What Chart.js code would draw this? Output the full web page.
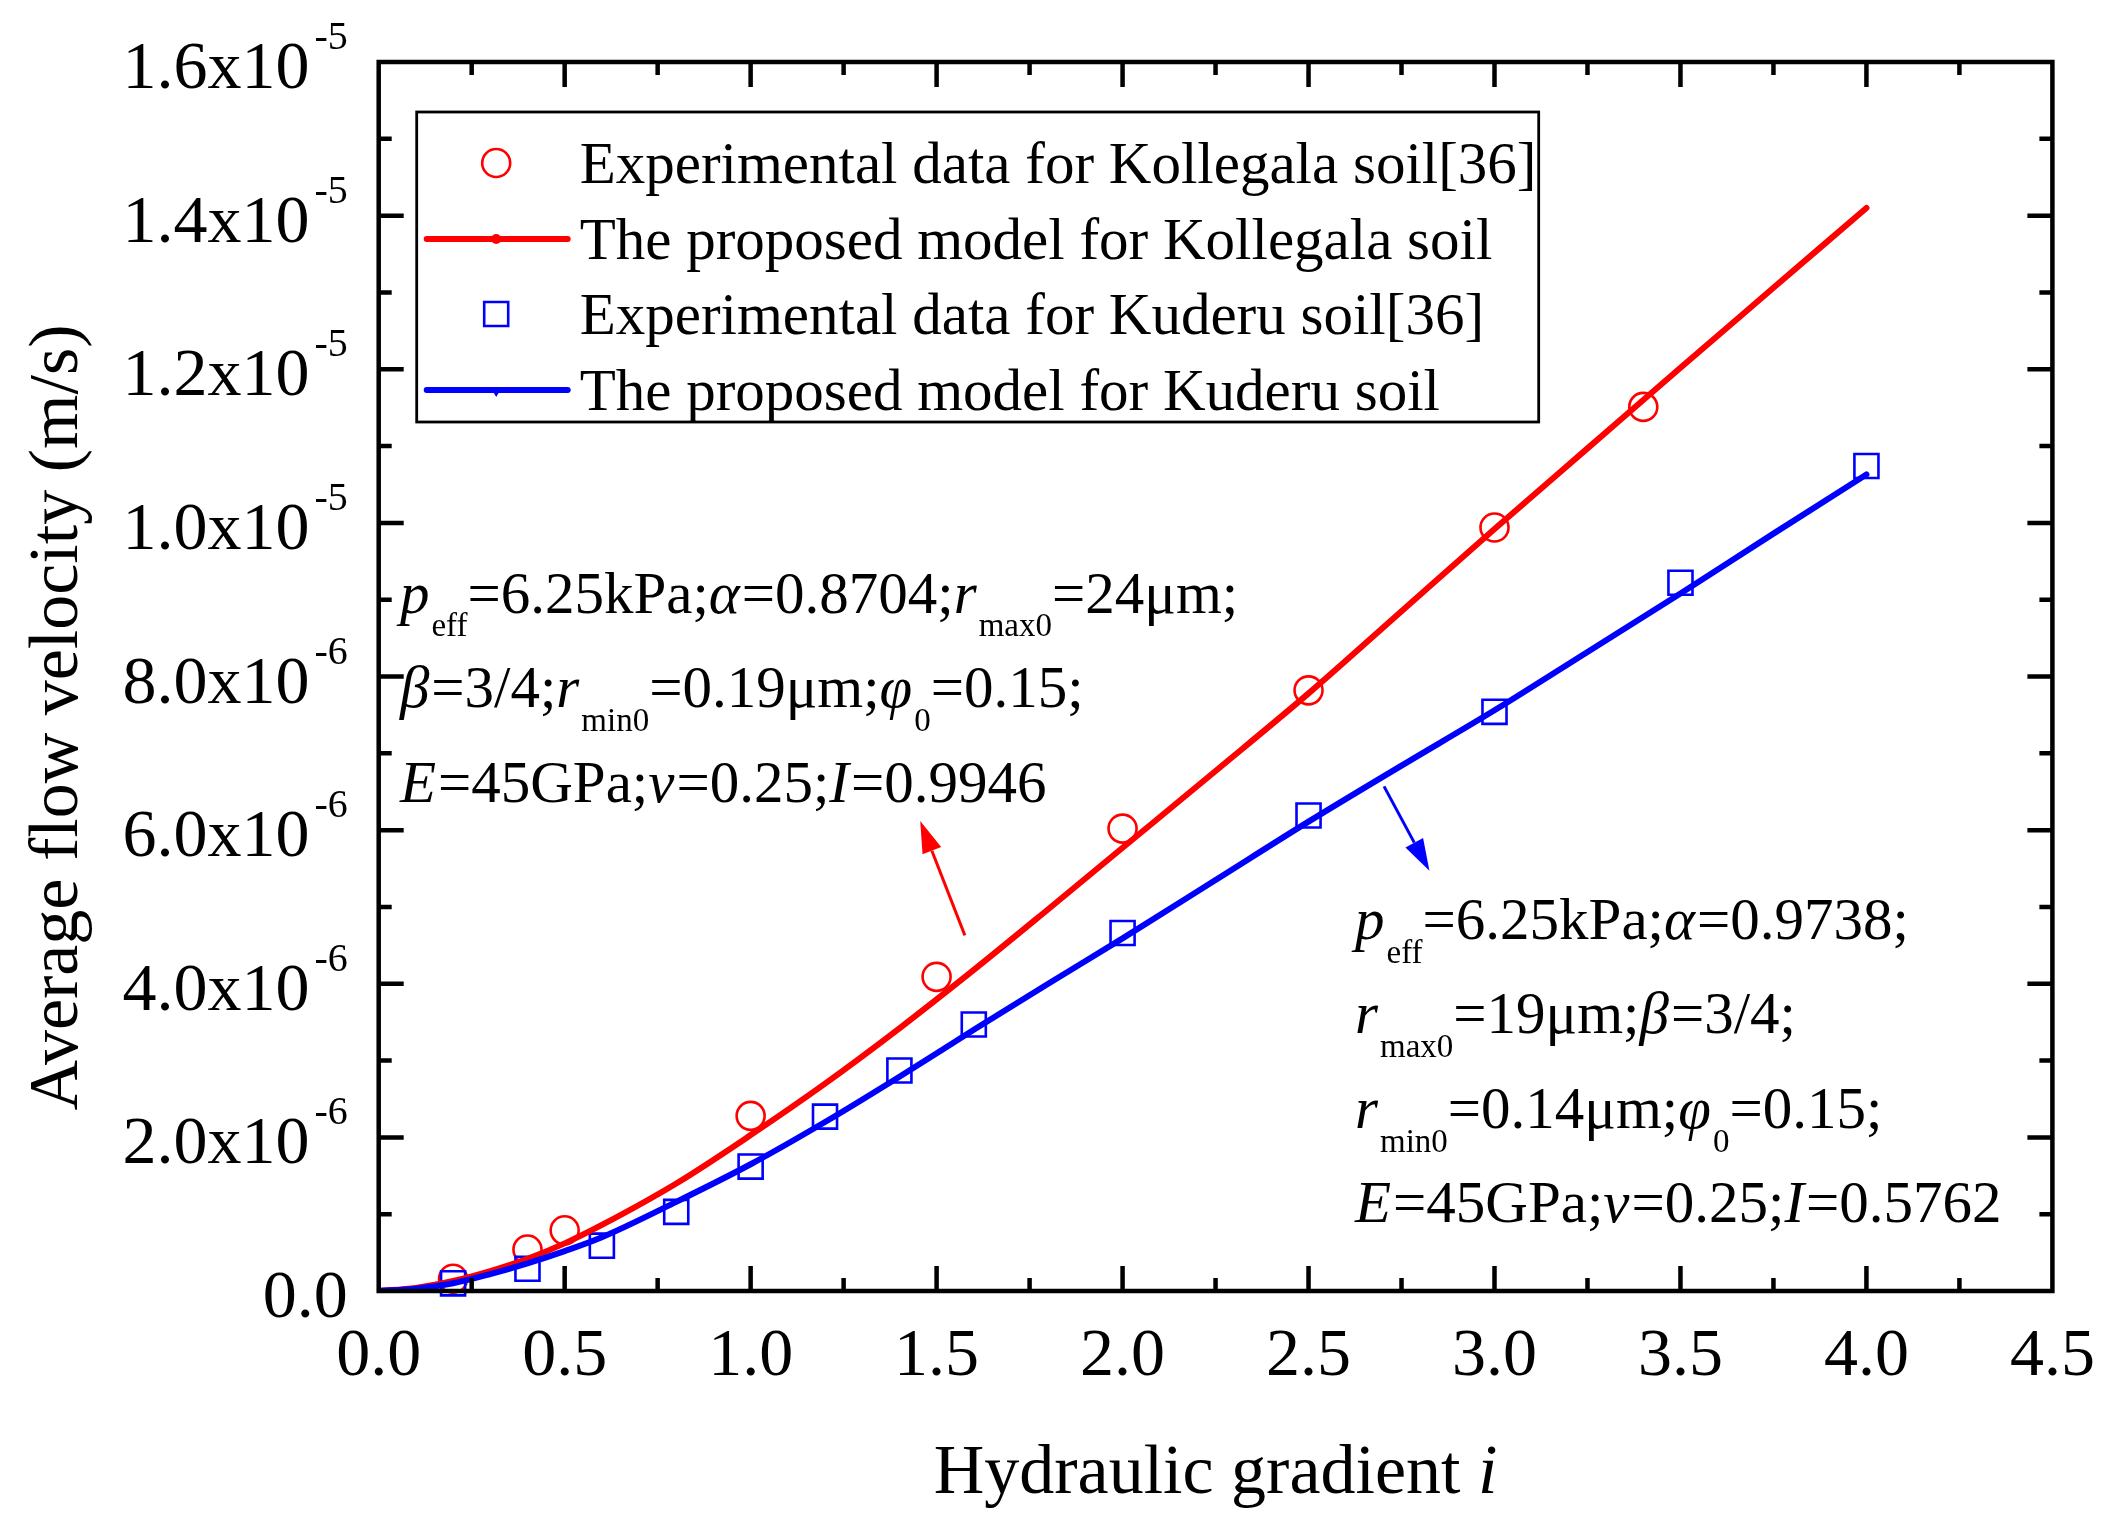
<!DOCTYPE html>
<html>
<head>
<meta charset="utf-8">
<script src="https://cdn.jsdelivr.net/npm/chart.js@4.4.1/dist/chart.umd.min.js"></script>
<style>
  html, body { margin: 0; padding: 0; background: #ffffff; }
  #wrap { width: 2113px; height: 1524px; }
</style>
</head>
<body>
<div id="wrap"><canvas id="c" width="2113" height="1524"></canvas></div>
<script>
// ---------------- DATA ----------------
const seriesNames = [
  'Experimental data for Kollegala soil[36]',
  'The proposed model for Kollegala soil',
  'Experimental data for Kuderu soil[36]',
  'The proposed model for Kuderu soil'
];

// Experimental data, Kollegala soil (hydraulic gradient, m/s)
const kollegalaExpX = [0.2, 0.4, 0.5, 1.0, 1.5, 2.0, 2.5, 3.0, 3.4];
const kollegalaExpY = [1.6e-7, 5.4e-7, 7.9e-7, 2.28e-6, 4.09e-6, 6.02e-6, 7.82e-6, 9.94e-6, 1.151e-5];

// Experimental data, Kuderu soil
const kuderuExpX = [0.2, 0.4, 0.6, 0.8, 1.0, 1.2, 1.4, 1.6, 2.0, 2.5, 3.0, 3.5, 4.0];
const kuderuExpY = [1.0e-7, 2.9e-7, 5.9e-7, 1.03e-6, 1.62e-6, 2.27e-6, 2.87e-6, 3.47e-6, 4.66e-6, 6.19e-6, 7.54e-6, 9.22e-6, 1.074e-5];

// Model curves
const modelX = [0, 0.1, 0.2, 0.3, 0.4, 0.5, 0.6, 0.8, 1.0, 1.2, 1.4, 1.6, 1.8, 2.0, 2.25, 2.5, 2.75, 3.0, 3.25, 3.5, 3.75, 4.0];
const kollegalaModelY = [0, 0.04e-6, 0.13e-6, 0.26e-6, 0.42e-6, 0.62e-6, 0.86e-6, 1.40e-6, 2.03e-6, 2.70e-6, 3.42e-6, 4.18e-6, 4.97e-6, 5.77e-6, 6.77e-6, 7.78e-6, 8.85e-6, 9.92e-6, 10.97e-6, 12.02e-6, 13.06e-6, 14.10e-6];
const kuderuModelY    = [0, 0.03e-6, 0.10e-6, 0.22e-6, 0.36e-6, 0.52e-6, 0.70e-6, 1.16e-6, 1.65e-6, 2.20e-6, 2.79e-6, 3.40e-6, 4.00e-6, 4.59e-6, 5.35e-6, 6.11e-6, 6.84e-6, 7.56e-6, 8.32e-6, 9.08e-6, 9.86e-6, 10.63e-6];

// Axes
const xMin = 0, xMax = 4.5, xMajorStep = 0.5, xMinorStep = 0.25;
const yMin = 0, yMax = 1.6e-5, yMajorStep = 2e-6, yMinorStep = 1e-6;
const xTickValues = [0, 0.5, 1.0, 1.5, 2.0, 2.5, 3.0, 3.5, 4.0, 4.5];
const xTickLabels = ['0.0', '0.5', '1.0', '1.5', '2.0', '2.5', '3.0', '3.5', '4.0', '4.5'];
const yTickValues = [0, 2e-6, 4e-6, 6e-6, 8e-6, 1.0e-5, 1.2e-5, 1.4e-5, 1.6e-5];
const yTickMantissa = ['0.0', '2.0x10', '4.0x10', '6.0x10', '8.0x10', '1.0x10', '1.2x10', '1.4x10', '1.6x10'];
const yTickExponent = ['', '-6', '-6', '-6', '-6', '-5', '-5', '-5', '-5'];
const xTitle = 'Hydraulic gradient ';
const xTitleItalic = 'i';
const yTitle = 'Average flow velocity (m/s)';

// Annotation texts (runs: t = text, i = italic, s = subscript)
const kollegalaNote = [
  [{t:'p',i:1},{t:'eff',s:1},{t:'=6.25kPa;'},{t:'α',i:1},{t:'=0.8704;'},{t:'r',i:1},{t:'max0',s:1},{t:'=24μm;'}],
  [{t:'β',i:1},{t:'=3/4;'},{t:'r',i:1},{t:'min0',s:1},{t:'=0.19μm;'},{t:'φ',i:1},{t:'0',s:1},{t:'=0.15;'}],
  [{t:'E',i:1},{t:'=45GPa;'},{t:'ν',i:1},{t:'=0.25;'},{t:'I',i:1},{t:'=0.9946'}]
];
const kuderuNote = [
  [{t:'p',i:1},{t:'eff',s:1},{t:'=6.25kPa;'},{t:'α',i:1},{t:'=0.9738;'}],
  [{t:'r',i:1},{t:'max0',s:1},{t:'=19μm;'},{t:'β',i:1},{t:'=3/4;'}],
  [{t:'r',i:1},{t:'min0',s:1},{t:'=0.14μm;'},{t:'φ',i:1},{t:'0',s:1},{t:'=0.15;'}],
  [{t:'E',i:1},{t:'=45GPa;'},{t:'ν',i:1},{t:'=0.25;'},{t:'I',i:1},{t:'=0.5762'}]
];
// annotation anchors in data units: [x, first baseline y]
const kollegalaNoteAt = [0.057, 8.83e-6];
const kuderuNoteAt = [2.625, 4.583e-6];
const noteLineStep = 1.23e-6;
// arrows in data units: [x0, y0, x1(tip), y1(tip)]
const kollegalaArrow = [1.576, 4.63e-6, 1.456, 6.12e-6];
const kuderuArrow = [2.703, 6.57e-6, 2.825, 5.47e-6];

// ---------------- STYLE ----------------
const RED = '#ff0000', BLUE = '#0000ff';
const FONT = '"Liberation Serif", "Times New Roman", serif';

const pts = (xs, ys) => xs.map((x, i) => ({x: x, y: ys[i]}));

const decorPlugin = {
  id: 'decor',
  afterDatasetsDraw(chart) {
    const ctx = chart.ctx;
    const xs = chart.scales.x, ys = chart.scales.y;
    const a = chart.chartArea;
    ctx.save();
    // frame
    ctx.strokeStyle = '#000';
    ctx.lineWidth = 4.5;
    ctx.lineCap = 'square';
    ctx.strokeRect(a.left, a.top, a.right - a.left, a.bottom - a.top);
    // ticks
    ctx.lineCap = 'butt';
    ctx.lineWidth = 4.5;
    const MAJ = 25, MIN = 13;
    for (let v = xMin; v <= xMax + 1e-9; v += xMinorStep) {
      if (Math.abs(v - xMin) < 1e-9 || Math.abs(v - xMax) < 1e-9) continue;
      const isMaj = Math.abs(v / xMajorStep - Math.round(v / xMajorStep)) < 1e-6;
      const L = isMaj ? MAJ : MIN;
      const px = xs.getPixelForValue(v);
      ctx.beginPath();
      ctx.moveTo(px, a.bottom); ctx.lineTo(px, a.bottom - L);
      ctx.moveTo(px, a.top); ctx.lineTo(px, a.top + L);
      ctx.stroke();
    }
    for (let k = 1; k * yMinorStep < yMax - 1e-12; k++) {
      const v = yMin + k * yMinorStep;
      const isMaj = k % Math.round(yMajorStep / yMinorStep) === 0;
      const L = isMaj ? MAJ : MIN;
      const py = ys.getPixelForValue(v);
      ctx.beginPath();
      ctx.moveTo(a.left, py); ctx.lineTo(a.left + L, py);
      ctx.moveTo(a.right, py); ctx.lineTo(a.right - L, py);
      ctx.stroke();
    }
    // x tick labels
    ctx.fillStyle = '#000';
    ctx.font = '68px ' + FONT;
    ctx.textAlign = 'center';
    ctx.textBaseline = 'alphabetic';
    xTickValues.forEach((v, i) => {
      ctx.fillText(xTickLabels[i], xs.getPixelForValue(v), a.bottom + 84);
    });
    // y tick labels with superscript
    ctx.textAlign = 'left';
    const rightEdge = a.left - 31;
    yTickValues.forEach((v, i) => {
      const py = ys.getPixelForValue(v);
      ctx.font = '68px ' + FONT;
      const wm = ctx.measureText(yTickMantissa[i]).width;
      let ws = 0;
      if (yTickExponent[i]) {
        ctx.font = '40px ' + FONT;
        ws = ctx.measureText(yTickExponent[i]).width + 5;
      }
      const x0 = rightEdge - wm - ws;
      ctx.font = '68px ' + FONT;
      ctx.fillText(yTickMantissa[i], x0, py + 26);
      if (yTickExponent[i]) {
        ctx.font = '40px ' + FONT;
        ctx.fillText(yTickExponent[i], x0 + wm + 5, py - 13);
      }
    });
    // axis titles
    ctx.font = '70px ' + FONT;
    const w1 = ctx.measureText(xTitle).width;
    ctx.font = 'italic 70px ' + FONT;
    const w2 = ctx.measureText(xTitleItalic).width;
    const cx = (a.left + a.right) / 2;
    let tx = cx - (w1 + w2) / 2;
    ctx.font = '70px ' + FONT;
    ctx.fillText(xTitle, tx, a.bottom + 202);
    ctx.font = 'italic 70px ' + FONT;
    ctx.fillText(xTitleItalic, tx + w1, a.bottom + 202);

    ctx.save();
    ctx.translate(77, (a.top + a.bottom) / 2 + 41);
    ctx.rotate(-Math.PI / 2);
    ctx.font = '70px ' + FONT;
    ctx.textAlign = 'center';
    ctx.fillText(yTitle, 0, 0);
    ctx.restore();

    // annotations
    const drawRich = (runs, x, y, size, color) => {
      ctx.fillStyle = color;
      ctx.textAlign = 'left';
      const sub = Math.round(size * 0.56);
      runs.forEach(r => {
        const sz = r.s ? sub : size;
        ctx.font = (r.i ? 'italic ' : '') + sz + 'px ' + FONT;
        const dy = r.s ? size * 0.4 : 0;
        ctx.fillText(r.t, x, y + dy);
        x += ctx.measureText(r.t).width + (r.i ? 2 : 0);
      });
    };
    const lineH = ys.getPixelForValue(0) - ys.getPixelForValue(noteLineStep);
    let bx = xs.getPixelForValue(kollegalaNoteAt[0]), by = ys.getPixelForValue(kollegalaNoteAt[1]);
    kollegalaNote.forEach((runs, i) => drawRich(runs, bx, by + i * lineH, 59, '#000'));
    bx = xs.getPixelForValue(kuderuNoteAt[0]); by = ys.getPixelForValue(kuderuNoteAt[1]);
    kuderuNote.forEach((runs, i) => drawRich(runs, bx, by + i * lineH, 59, '#000'));

    // arrows
    const arrow = (arr, color) => {
      const x0 = xs.getPixelForValue(arr[0]), y0 = ys.getPixelForValue(arr[1]);
      const x1 = xs.getPixelForValue(arr[2]), y1 = ys.getPixelForValue(arr[3]);
      const ang = Math.atan2(y1 - y0, x1 - x0);
      const HL = 32, HW = 10;
      const bxp = x1 - HL * Math.cos(ang), byp = y1 - HL * Math.sin(ang);
      ctx.strokeStyle = color; ctx.fillStyle = color;
      ctx.lineWidth = 3;
      ctx.beginPath(); ctx.moveTo(x0, y0); ctx.lineTo(bxp, byp); ctx.stroke();
      ctx.beginPath();
      ctx.moveTo(x1, y1);
      ctx.lineTo(bxp + HW * Math.sin(ang), byp - HW * Math.cos(ang));
      ctx.lineTo(bxp - HW * Math.sin(ang), byp + HW * Math.cos(ang));
      ctx.closePath(); ctx.fill();
    };
    arrow(kollegalaArrow, RED);
    arrow(kuderuArrow, BLUE);

    // legend box
    const lx0 = a.left + 38, ly0 = a.top + 50, lx1 = a.left + 1160, ly1 = a.top + 360;
    ctx.fillStyle = '#fff';
    ctx.fillRect(lx0, ly0, lx1 - lx0, ly1 - ly0);
    ctx.strokeStyle = '#000';
    ctx.lineWidth = 2.8;
    ctx.strokeRect(lx0, ly0, lx1 - lx0, ly1 - ly0);
    const rowY = [ly0 + 51, ly0 + 127, ly0 + 202, ly0 + 278];
    const mx = lx0 + 79.5;
    chart.data.datasets.forEach((ds, i) => {
      const ry = rowY[i];
      if (ds.showLine) {
        ctx.strokeStyle = ds.borderColor;
        ctx.lineWidth = 6;
        ctx.lineCap = 'round';
        ctx.beginPath(); ctx.moveTo(lx0 + 10, ry); ctx.lineTo(lx0 + 151, ry); ctx.stroke();
        ctx.fillStyle = ds.borderColor;
        ctx.beginPath();
        if (i === 1) { ctx.arc(mx, ry, 5, 0, Math.PI * 2); }
        else { ctx.moveTo(mx - 6, ry - 3); ctx.lineTo(mx + 6, ry - 3); ctx.lineTo(mx, ry + 7); ctx.closePath(); }
        ctx.fill();
      } else {
        ctx.strokeStyle = ds.borderColor;
        ctx.lineWidth = 2.6;
        ctx.beginPath();
        if (ds.pointStyle === 'circle') ctx.arc(mx, ry, 14, 0, Math.PI * 2);
        else ctx.rect(mx - 12, ry - 12, 24, 24);
        ctx.stroke();
      }
      ctx.fillStyle = '#000';
      ctx.font = '59px ' + FONT;
      ctx.textAlign = 'left';
      ctx.fillText(ds.label, lx0 + 163, ry + 20);
    });
    ctx.restore();
  }
};

new Chart(document.getElementById('c'), {
  type: 'scatter',
  data: {
    datasets: [
      { label: seriesNames[0], data: pts(kollegalaExpX, kollegalaExpY), showLine: false,
        pointStyle: 'circle', pointRadius: 14, pointBorderWidth: 2.6,
        borderColor: RED, pointBorderColor: RED, backgroundColor: 'rgba(0,0,0,0)', pointBackgroundColor: 'rgba(0,0,0,0)',
        order: 3, clip: false },
      { label: seriesNames[1], data: pts(modelX, kollegalaModelY), showLine: true,
        pointRadius: 0, borderColor: RED, borderWidth: 6, cubicInterpolationMode: 'monotone',
        borderCapStyle: 'round', order: 1 },
      { label: seriesNames[2], data: pts(kuderuExpX, kuderuExpY), showLine: false,
        pointStyle: 'rect', pointRadius: 17, pointBorderWidth: 2.6,
        borderColor: BLUE, pointBorderColor: BLUE, backgroundColor: 'rgba(0,0,0,0)', pointBackgroundColor: 'rgba(0,0,0,0)',
        order: 2, clip: false },
      { label: seriesNames[3], data: pts(modelX, kuderuModelY), showLine: true,
        pointRadius: 0, borderColor: BLUE, borderWidth: 6, cubicInterpolationMode: 'monotone',
        borderCapStyle: 'round', order: 0 }
    ]
  },
  options: {
    responsive: false,
    devicePixelRatio: 1,
    animation: false,
    events: [],
    layout: { padding: { left: 378.7, right: 60.6, top: 62, bottom: 233 } },
    scales: {
      x: { type: 'linear', min: xMin, max: xMax, display: false },
      y: { type: 'linear', min: yMin, max: yMax, display: false }
    },
    plugins: { legend: { display: false }, tooltip: { enabled: false }, title: { display: false } }
  },
  plugins: [decorPlugin]
});
</script>
</body>
</html>
